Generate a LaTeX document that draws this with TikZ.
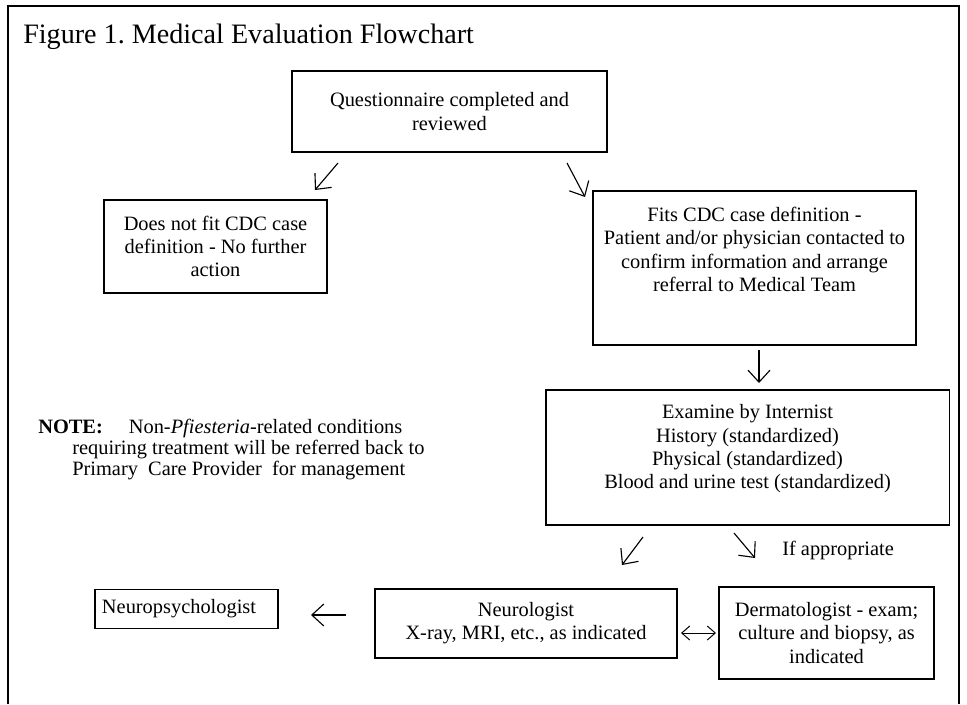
\documentclass[tikz,border=0pt]{standalone}
\usepackage{fontspec}
\setmainfont{Liberation Serif}
\usetikzlibrary{arrows.meta, positioning}

\newcommand{\bodyfont}{\fontsize{14.5pt}{16.5pt}\selectfont}
\newcommand{\titlefont}{\fontsize{20pt}{24pt}\selectfont}
\frenchspacing

\tikzset{
  box/.style={draw, line width=0.8pt, align=center, inner sep=2pt, font=\bodyfont},
  pointer/.style={line width=0.8pt, -{Straight Barb[length=0.3cm, width=0.55cm]}},
  twoway/.style={line width=0.7pt, {Straight Barb[length=0.2cm, width=0.35cm]}-{Straight Barb[length=0.2cm, width=0.35cm]}},
}

\begin{document}
\begin{tikzpicture}[x=0.025cm, y=-0.025cm]
  \useasboundingbox (0,0) rectangle (967,704);

  % outer frame (open at the bottom)
  \draw[line width=0.8pt] (8,704) -- (8,6) -- (959,6) -- (959,704);

  % Title
  \node[font=\titlefont, anchor=west, inner sep=0] (title) at (23, 37) {Figure 1. Medical Evaluation Flowchart};

  % Boxes
  \node[box, minimum width=7.875cm, minimum height=2.025cm] (quest) at (449.5, 111.5) {Questionnaire completed and\\reviewed};
  \node[box, minimum width=5.575cm, minimum height=2.325cm] (nofit) at (215.5, 246.5) {Does not fit CDC case\\definition - No further\\action};
  \node[box, minimum width=8.075cm, minimum height=3.85cm] (fits) at (754.5, 268) {Fits CDC case definition -\\Patient and/or physician contacted to\\confirm information and arrange\\referral to Medical Team\\[10pt]};
  \node[box, minimum width=10.075cm, minimum height=3.375cm] (exam) at (747.5, 457.5) {Examine by Internist\\History (standardized)\\Physical (standardized)\\Blood and urine test (standardized)\\[-1pt]};
  \node[box, minimum width=7.55cm, minimum height=1.725cm] (neuro) at (526, 623.5) {Neurologist\\X-ray, MRI, etc., as indicated};
  \node[box, minimum width=5.375cm, minimum height=2.3cm] (derm) at (826.5, 633) {Dermatologist - exam;\\culture and biopsy, as\\indicated};
  \node[box, minimum width=4.575cm, minimum height=0.975cm, align=left, inner xsep=5pt, text width=4.225cm] (npsy) at (186.5, 609) {Neuropsychologist};

  % Note and side label
  \node[font=\fontsize{14.5pt}{15pt}\selectfont, align=left, anchor=north west, inner sep=0] (note) at (38, 419)
    {\textbf{NOTE:}\hspace{0.65cm}Non-\textit{Pfiesteria}-related conditions\\
     \hspace*{0.85cm}requiring treatment will be referred back to\\
     \hspace*{0.85cm}Primary\ \ Care Provider\ \ for management};
  \node[font=\bodyfont, anchor=west, inner sep=0] (ifapp) at (782, 550) {If appropriate};

  % Arrow ends
  \coordinate (q1) at (338,163);  \coordinate (q2) at (315,190);
  \coordinate (q3) at (567,163);  \coordinate (q4) at (585,197);
  \coordinate (f1) at (759,350);  \coordinate (f2) at (759,383);
  \coordinate (e1) at (643,537);  \coordinate (e2) at (622,565);
  \coordinate (e3) at (734,533);  \coordinate (e4) at (755,558);
  \coordinate (n1) at (346,615);  \coordinate (n2) at (311,615);
  \coordinate (d1) at (681,633);  \coordinate (d2) at (716,633);

  % Arrows
  \draw[pointer] (q1) -- (q2);
  \draw[pointer] (q3) -- (q4);
  \draw[pointer] (f1) -- (f2);
  \draw[pointer] (e1) -- (e2);
  \draw[pointer] (e3) -- (e4);
  \draw[pointer] (n1) -- (n2);
  \draw[twoway] (d1) -- (d2);
\end{tikzpicture}
\end{document}
